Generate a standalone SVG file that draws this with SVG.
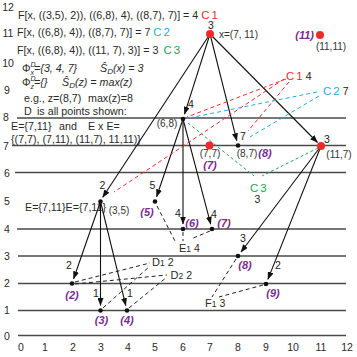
<svg xmlns="http://www.w3.org/2000/svg" width="357" height="357" viewBox="0 0 357 357">
<defs>
<marker id="arr" markerUnits="userSpaceOnUse" markerWidth="8" markerHeight="6" refX="7.5" refY="3" orient="auto">
<path d="M0,0 L8,3 L0,6 z" fill="#111"/>
</marker>
<style>
text{font-family:"Liberation Sans",Arial,sans-serif;fill:#2a2a2a}
.ax{font-size:10.5px}
.t{font-size:10.7px}
.it{font-style:italic}
.lb{font-size:10px;fill:#333}
.w{font-size:10.5px;fill:#222}
.pu{font-size:11px;font-weight:bold;font-style:italic;fill:#7b2d8f}
.grid line{stroke:#4a4a4a;stroke-width:1.3}
.edge{stroke:#111;stroke-width:1.1;fill:none;marker-end:url(#arr)}
.dr{stroke:#ee2b2b;stroke-width:1;stroke-dasharray:4 3;fill:none}
.db{stroke:#27aae1;stroke-width:1;stroke-dasharray:4 3;fill:none}
.dg{stroke:#21a651;stroke-width:1;stroke-dasharray:3 2.5;fill:none}
.dk{stroke:#222;stroke-width:1;stroke-dasharray:4 3;fill:none}
.red{fill:#ee2b2b}
.blk{fill:#111}
.cr{fill:#ee2b2b;font-size:11.5px}
.cb{fill:#27aae1;font-size:11.5px}
.cg{fill:#21a651;font-size:11.5px}
</style>
</defs>
<rect width="357" height="357" fill="#fff"/>

<g id="grid" class="grid">
<line x1="17" y1="118" x2="346" y2="118"/>
<line x1="12" y1="145.5" x2="346" y2="145.5"/>
<line x1="15" y1="172.5" x2="346" y2="172.5"/>
<line x1="17" y1="229" x2="346" y2="229"/>
<line x1="18" y1="256" x2="346" y2="256"/>
<line x1="18" y1="283.5" x2="346" y2="283.5"/>
<line x1="18" y1="310.5" x2="346" y2="310.5"/>
<line x1="18" y1="335.5" x2="346" y2="335.5"/>
</g>

<g id="axis-labels" class="ax" text-anchor="middle">
<text x="8" y="11">12</text>
<text x="8" y="37">11</text>
<text x="8" y="67">10</text>
<text x="7" y="94">9</text>
<text x="6" y="121">8</text>
<text x="6" y="150">7</text>
<text x="7" y="177">6</text>
<text x="7" y="205">5</text>
<text x="7" y="233">4</text>
<text x="7" y="260">3</text>
<text x="7" y="287">2</text>
<text x="7" y="314">1</text>
<text x="7" y="340">0</text>
<text x="21" y="351">0</text>
<text x="45" y="351">1</text>
<text x="73" y="351">2</text>
<text x="101" y="351">3</text>
<text x="128" y="351">4</text>
<text x="155" y="351">5</text>
<text x="183" y="351">6</text>
<text x="210" y="351">7</text>
<text x="238" y="351">8</text>
<text x="266" y="351">9</text>
<text x="293" y="351">10</text>
<text x="321" y="351">11</text>
<text x="347" y="351">12</text>
</g>

<g id="legend">
<text class="t" x="18" y="18.5">F[x, ((3,5), 2)), ((6,8), 4), ((8,7), 7)] = 4 <tspan class="cr">C</tspan><tspan class="cr" font-size="8.5px" dx="2">1</tspan></text>
<text class="t" x="17" y="36">F[x, ((6,8), 4)), ((8,7), 7)] = 7 <tspan class="cb">C</tspan><tspan class="cb" font-size="8.5px" dx="2">2</tspan></text>
<text class="t" x="17" y="54">F[x, ((6,8), 4)), ((11, 7), 3)] = 3 <tspan class="cg" dx="2">C</tspan><tspan class="cg" font-size="8.5px" dx="2">3</tspan></text>
<text class="t" x="22" y="72">Φ<tspan font-size="7px" dy="-5" class="it">D</tspan><tspan font-size="7px" dx="-5" dy="8" class="it">x</tspan><tspan dy="-3" class="it">={3, 4, 7}</tspan></text>
<text class="t it" x="100" y="72">Ŝ<tspan font-size="8px" dy="2">D</tspan><tspan dy="-2">(x) = 3</tspan></text>
<text class="t" x="22" y="86">Φ<tspan font-size="7px" dy="-5" class="it">D</tspan><tspan font-size="7px" dx="-5" dy="8" class="it">z</tspan><tspan dy="-3" class="it">={}</tspan></text>
<text class="t it" x="62" y="86">Ŝ<tspan font-size="8px" dy="2">D</tspan><tspan dy="-2">(z) = max(z)</tspan></text>
<text class="t" x="24" y="101.5">e.g., z=(8,7) <tspan x="88">max(z)=8</tspan></text>
<text class="t" x="24" y="114.5">D <tspan x="37">is all points shown:</tspan></text>
<text class="t" x="11" y="129.5">E={7,11} <tspan x="59">and</tspan> <tspan x="88">E x E=</tspan></text>
<text class="t" x="11" y="142.5">{(7,7), (7,11), (11,7), 11,11)}</text>
<text class="t" x="25" y="211">E={7,11}E={7,11}</text>
</g>

<g id="connectors">
<line class="edge" x1="210" y1="34" x2="102.7" y2="197.3"/>
<line class="edge" x1="210" y1="34" x2="184.5" y2="114.2"/>
<line class="edge" x1="210" y1="34" x2="236.8" y2="140.7"/>
<line class="edge" x1="210" y1="34" x2="317.5" y2="142.5"/>
<line class="edge" x1="183" y1="119" x2="156.6" y2="196.8"/>
<line class="edge" x1="183" y1="119" x2="183" y2="224"/>
<line class="edge" x1="183" y1="119" x2="210.7" y2="224.2"/>
<line class="edge" x1="100.5" y1="201.5" x2="73.6" y2="278.8"/>
<line class="edge" x1="100.5" y1="201.5" x2="100.5" y2="305.5"/>
<line class="edge" x1="100.5" y1="201.5" x2="125.8" y2="305.6"/>
<line class="edge" x1="321" y1="146" x2="241" y2="252"/>
<line class="edge" x1="321" y1="146" x2="267.9" y2="279.4"/>

<line class="dr" x1="284" y1="79" x2="114" y2="192"/>
<line class="dr" x1="286" y1="79" x2="187" y2="117"/>
<line class="dr" x1="289" y1="82" x2="248" y2="131"/>
<line class="db" x1="317" y1="92" x2="189" y2="118"/>
<line class="db" x1="319" y1="96" x2="250" y2="137"/>
<line class="dg" x1="188" y1="123" x2="254" y2="176"/>
<line class="dg" x1="318" y1="148" x2="262" y2="176"/>

<line class="dk" x1="157" y1="206" x2="175" y2="241"/>
<line class="dk" x1="183" y1="232" x2="183" y2="241"/>
<line class="dk" x1="210" y1="231" x2="191" y2="239"/>
<line class="dk" x1="75" y1="282" x2="150" y2="263"/>
<line class="dk" x1="103" y1="308" x2="150" y2="266"/>
<line class="dk" x1="75" y1="284" x2="167" y2="275"/>
<line class="dk" x1="129" y1="308" x2="167" y2="277"/>
<line class="dk" x1="236" y1="259" x2="212" y2="297"/>
<line class="dk" x1="263" y1="285" x2="219" y2="297"/>
</g>

<g id="aux-labels">
<text x="286" y="80"><tspan class="cr">C</tspan><tspan class="cr" font-size="8.5px" dx="2">1</tspan><tspan class="w" font-size="12px" dx="3">4</tspan></text>
<text x="323" y="95"><tspan class="cb">C</tspan><tspan class="cb" font-size="8.5px" dx="2">2</tspan><tspan class="w" font-size="12px" dx="3">7</tspan></text>
<text x="250" y="191.5"><tspan class="cg" font-size="12px">C</tspan><tspan class="cg" font-size="8.5px" dx="2">3</tspan></text>
<text class="w" x="257.5" y="202.5" text-anchor="middle">3</text>
<text x="179" y="252"><tspan font-size="11px">E</tspan><tspan font-size="8.5px">1</tspan><tspan font-size="10.5px" dx="3">4</tspan></text>
<text x="152" y="265.5"><tspan font-size="11px">D</tspan><tspan font-size="8.5px">1</tspan><tspan font-size="10.5px" dx="3">2</tspan></text>
<text x="170.5" y="278.5"><tspan font-size="11px">D</tspan><tspan font-size="8.5px">2</tspan><tspan font-size="10.5px" dx="3">2</tspan></text>
<text x="205" y="306.5"><tspan font-size="11px">F</tspan><tspan font-size="8.5px">1</tspan><tspan font-size="10.5px" dx="3">3</tspan></text>
</g>

<g id="n-7-11">
<circle class="red" cx="210" cy="34" r="4"/>
<text class="w" x="211" y="29" text-anchor="middle">3</text>
<text class="lb" x="219" y="37.5">x=(7, 11)</text>
</g>
<g id="n-11-11">
<circle class="red" cx="320" cy="35" r="4"/>
<text class="pu" x="314" y="39" text-anchor="end">(11)</text>
<text class="lb" x="331" y="49.5" text-anchor="middle">(11,11)</text>
</g>
<g id="n-6-8">
<circle class="blk" cx="183" cy="119" r="2.3"/>
<text class="w" x="191" y="107.5" text-anchor="middle">4</text>
<text class="lb" x="167" y="126.5" text-anchor="middle">(6,8)</text>
</g>
<g id="n-7-7">
<circle class="red" cx="209.5" cy="145.5" r="4"/>
<text class="lb" x="210" y="156.5" text-anchor="middle">(7,7)</text>
<text class="pu" x="210" y="169" text-anchor="middle">(7)</text>
</g>
<g id="n-8-7">
<circle class="blk" cx="238" cy="145.5" r="2.3"/>
<text class="w" x="243" y="140" text-anchor="middle">7</text>
<text class="lb" x="247" y="156.5" text-anchor="middle">(8,7)</text>
<text class="pu" x="265" y="157" text-anchor="middle">(8)</text>
</g>
<g id="n-11-7">
<circle class="red" cx="321" cy="146" r="4"/>
<text class="w" x="327" y="142.5" text-anchor="middle">3</text>
<text class="lb" x="339" y="157.5" text-anchor="middle">(11,7)</text>
</g>
<g id="n-3-5">
<circle class="blk" cx="100.5" cy="201.5" r="2.3"/>
<text class="w" x="102.5" y="188.5" text-anchor="middle">2</text>
<text class="lb" x="119" y="214" text-anchor="middle">(3,5)</text>
</g>
<g id="n-5-5">
<circle class="blk" cx="155" cy="201.5" r="2.3"/>
<text class="w" x="152.5" y="188.5" text-anchor="middle">5</text>
<text class="pu" x="147" y="216" text-anchor="middle">(5)</text>
</g>
<g id="n-6-4">
<circle class="blk" cx="183" cy="229" r="2.3"/>
<text class="w" x="178" y="217" text-anchor="middle">4</text>
<text class="pu" x="192" y="226.5" text-anchor="middle">(6)</text>
</g>
<g id="n-7-4">
<circle class="blk" cx="212" cy="229" r="2.3"/>
<text class="w" x="214" y="218" text-anchor="middle">4</text>
<text class="pu" x="224" y="226.5" text-anchor="middle">(7)</text>
</g>
<g id="n-8-3">
<circle class="blk" cx="238" cy="256" r="2.3"/>
<text class="w" x="243" y="242" text-anchor="middle">3</text>
<text class="pu" x="245" y="269" text-anchor="middle">(8)</text>
</g>
<g id="n-9-2">
<circle class="blk" cx="266" cy="284" r="2.3"/>
<text class="w" x="278" y="269" text-anchor="middle">2</text>
<text class="pu" x="273" y="297" text-anchor="middle">(9)</text>
</g>
<g id="n-2-2">
<circle class="blk" cx="72" cy="283.5" r="2.3"/>
<text class="w" x="69" y="268.5" text-anchor="middle">2</text>
<text class="pu" x="72" y="299" text-anchor="middle">(2)</text>
</g>
<g id="n-3-1">
<circle class="blk" cx="100.5" cy="310.5" r="2.3"/>
<text class="w" x="96" y="297" text-anchor="middle">1</text>
<text class="pu" x="101.5" y="324" text-anchor="middle">(3)</text>
</g>
<g id="n-4-1">
<circle class="blk" cx="127" cy="310.5" r="2.3"/>
<text class="w" x="130" y="297" text-anchor="middle">1</text>
<text class="pu" x="127" y="324" text-anchor="middle">(4)</text>
</g>
</svg>
